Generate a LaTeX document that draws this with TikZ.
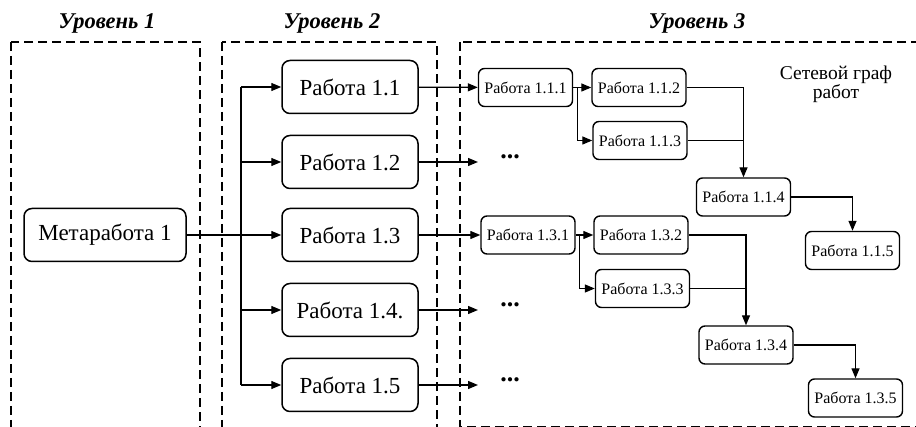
\documentclass[tikz,border=0pt]{standalone}
\usepackage{fontspec}
\setmainfont{Liberation Serif}
\usepackage{tikz}
\usetikzlibrary{positioning,calc,arrows.meta}

\tikzset{
  lvlbox/.style={draw, rounded corners=8pt, line width=1.5pt, minimum width=136pt, minimum height=53pt, inner sep=2pt, font=\fontsize{23}{27}\selectfont},
  subbox/.style={draw, rounded corners=6pt, line width=1.4pt, minimum width=94pt, minimum height=38pt, inner sep=2pt, font=\fontsize{16}{19}\selectfont},
  zone/.style={draw, line width=1.4pt, dash pattern=on 9pt off 5pt},
  heading/.style={font=\fontsize{22.5}{26}\selectfont\bfseries\itshape},
  dotsnode/.style={inner sep=0pt, font=\fontsize{26}{30}\selectfont\bfseries},
  wire/.style={line width=1.3pt},
  arr/.style={wire, -{Triangle[length=10pt,width=8pt]}}
}

\begin{document}
\begin{tikzpicture}[x=1pt, y=-1pt]
    \useasboundingbox (0,0) rectangle (916,427);
    \clip (0,0) rectangle (916,427);

    % Levels
    \draw[zone] (11,42) rectangle (200,445);
    \draw[zone] (222,42) rectangle (437,445);
    \draw[zone] (460,42) rectangle (935,427);
    \node[heading, anchor=base] (h1) at (107,28.5) {Уровень 1};
    \node[heading, anchor=base] (h2) at (332,28.5) {Уровень 2};
    \node[heading, anchor=base] (h3) at (697,28.5) {Уровень 3};

    % Level 1
    \node[lvlbox, minimum width=162pt] (meta) at (105,235) {Метаработа 1};

    % Level 2
    \foreach \n/\y/\t in {1/87/{Работа 1.1}, 2/162/{Работа 1.2}, 3/235/{Работа 1.3}, 4/310/{Работа 1.4.}, 5/385/{Работа 1.5}}
        \node[lvlbox] (w1\n) at (350,\y) {\t};
    \coordinate (fork) at (241,235);
    \draw[wire] (fork |- w11) -- (fork |- w15);
    \foreach \n in {1,2,4,5}
        \draw[arr] (fork |- w1\n) -- (w1\n);
    \draw[arr] (meta) -- (w13);

    % Not expanded
    \foreach \n/\y in {2/162, 4/310, 5/385} {
        \coordinate (e1\n) at (478,\y);
        \draw[arr] (w1\n) -- (e1\n);
        \node[dotsnode] (d1\n) at (510,\y-5) {...};
    }

    % Level 3
    \node[align=center, font=\fontsize{19.5}{19}\selectfont] (net) at (836,84) {Сетевой граф\\работ};

    \node[subbox] (w111) at (525.5,87.5) {Работа 1.1.1};
    \node[subbox] (w112) at (639,87.5) {Работа 1.1.2};
    \node[subbox] (w113) at (640,140.5) {Работа 1.1.3};
    \node[subbox] (w114) at (743.5,197) {Работа 1.1.4};
    \node[subbox] (w115) at (852.5,250.5) {Работа 1.1.5};

    \node[subbox] (w131) at (528,235) {Работа 1.3.1};
    \node[subbox] (w132) at (641,235) {Работа 1.3.2};
    \node[subbox] (w133) at (642.5,288.5) {Работа 1.3.3};
    \node[subbox] (w134) at (746,345) {Работа 1.3.4};
    \node[subbox] (w135) at (855.5,398) {Работа 1.3.5};

    \foreach \k in {1,3} {
        \draw[arr] (w1\k) -- (w1\k1);
        \draw[arr] (w1\k1) -- (w1\k2);
        \coordinate (b1\k) at ([xshift=4pt]w1\k1.east);
        \draw[arr] (b1\k) |- (w1\k3);
        \draw[arr] (w1\k2) -| (w1\k4);
        \draw[wire] (w1\k3) -- (w1\k3 -| w1\k4);
        \draw[arr] (w1\k4) -| (w1\k5);
    }
\end{tikzpicture}
\end{document}
